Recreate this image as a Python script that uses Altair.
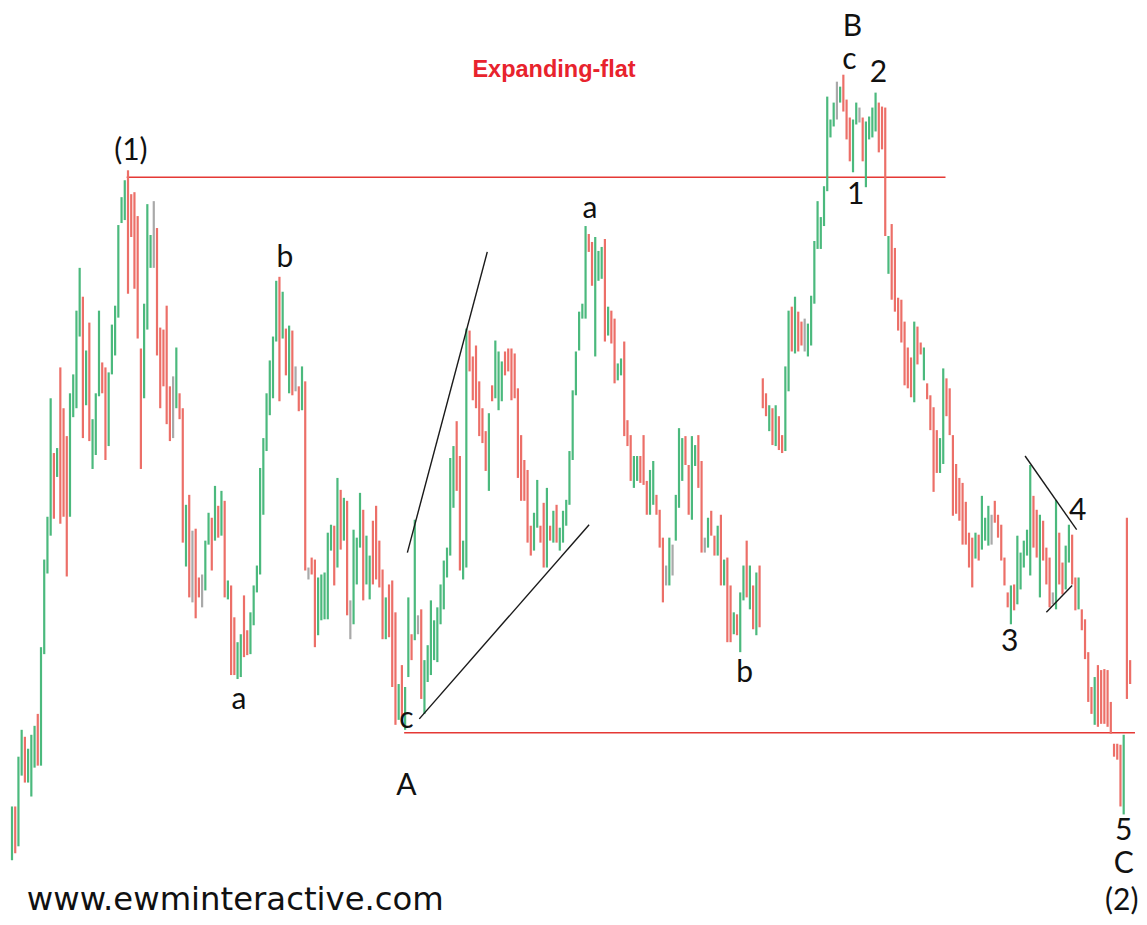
import altair as alt
import pandas as pd

# Bar readings: level of the bar top and bottom
# (level measured downward, so the y scale is reversed), and bar direction.
tops = [
    810, 810, 760, 733, 740, 752, 738, 729, 717, 650, 562, 519, 400, 455, 450, 369, 410, 438, 395, 376,
    312, 269, 298, 352, 324, 421, 395, 312, 364, 369, 374, 326, 307, 226, 198, 181, 171, 195, 193, 217,
    350, 305, 205, 236, 202, 229, 329, 331, 307, 388, 378, 349, 395, 410, 507, 497, 533, 531,
    580, 577, 543, 515, 520, 488, 508, 493, 503, 583, 588, 620, 645, 637, 598, 633, 615, 588, 568, 470,
    440, 395, 362, 338, 282, 278, 293, 330, 327, 332, 368, 388, 368, 383, 570, 560, 562, 580, 577, 575,
    535, 527, 528, 480, 492, 500, 503, 603, 532, 540, 495, 512, 538, 558, 523, 508, 543, 572, 600, 587,
    583, 615, 687, 668, 690, 600, 637, 522, 618, 612, 663, 648, 603, 623, 610, 587, 563, 550, 460, 448,
    423, 458, 543, 330, 332, 358, 347, 383, 410, 433, 415, 387, 342, 353, 363, 353, 350, 350, 355, 390,
    437, 462, 472, 528, 515, 482, 528, 505, 490, 528, 513, 507, 530, 513, 502, 453, 392, 353, 313, 305,
    227, 235, 243, 238, 252, 248, 240, 308, 312, 320, 365, 360, 343, 422, 437, 458, 458, 458, 437, 483,
    472, 463, 497, 512, 540, 568, 540, 547, 497, 430, 440, 438, 467, 438, 447, 437, 463, 540, 520, 513,
    538, 528, 517, 562, 560, 588, 615, 617, 595, 568, 543, 568, 588, 575, 568,
    380, 395, 407, 410, 407, 418, 437, 368, 312, 308, 298, 313, 323, 320, 325, 297, 242, 202, 218, 187,
    97, 120, 103, 82, 87, 75, 100, 118, 120, 103, 108, 118, 122, 117, 108, 93, 103, 107, 108,
    237, 225, 249, 299, 301, 323, 349, 359, 323, 328, 344, 349, 385, 397, 409, 432, 440, 370, 380, 390,
    437, 466, 480, 485, 504, 535, 540, 535, 537,
    498, 520, 508, 517, 503, 517, 527, 560, 595, 588, 587, 538, 555, 543, 532, 467, 498, 512, 517, 523,
    550, 560, 595, 502, 535, 565, 548, 527, 537, 580, 580,
    612, 622, 655, 690, 680, 668, 673, 672, 673, 705, 747, 747, 748, 738, 520, 663,
]
bottoms = [
    864, 857, 850, 779, 786, 786, 800, 771, 769, 769, 657, 576, 538, 521, 479, 526, 519, 579, 519, 419,
    410, 338, 440, 407, 443, 471, 457, 398, 395, 462, 448, 376, 357, 319, 224, 221, 295, 238, 290, 340,
    471, 400, 331, 269, 269, 357, 410, 388, 426, 443, 440, 410, 421, 545, 569, 600, 605, 621,
    600, 610, 593, 547, 573, 543, 540, 538, 600, 602, 678, 678, 682, 680, 660, 658, 657, 628, 595, 577,
    517, 453, 417, 400, 343, 403, 340, 377, 395, 397, 393, 413, 412, 573, 582, 577, 650, 638, 623, 622,
    622, 553, 588, 570, 552, 543, 618, 642, 627, 587, 550, 603, 587, 602, 587, 582, 590, 642, 642, 640,
    690, 728, 723, 725, 733, 680, 663, 643, 637, 702, 717, 685, 678, 663, 665, 627, 612, 580, 558, 510,
    493, 573, 582, 570, 373, 402, 410, 438, 445, 473, 493, 403, 400, 412, 403, 377, 373, 402, 400, 480,
    503, 503, 545, 558, 553, 530, 545, 570, 570, 543, 545, 545, 553, 545, 528, 507, 462, 397, 352, 320,
    320, 253, 287, 358, 282, 280, 343, 337, 345, 385, 382, 377, 438, 448, 483, 490, 483, 485, 487, 517,
    517, 507, 517, 550, 605, 588, 588, 578, 543, 510, 483, 467, 517, 522, 468, 490, 555, 555, 550, 538,
    558, 558, 588, 588, 645, 645, 637, 638, 655, 603, 600, 612, 632, 638, 630,
    410, 418, 433, 447, 448, 452, 455, 453, 393, 353, 355, 353, 347, 353, 358, 347, 305, 250, 250, 227,
    192, 138, 127, 120, 103, 112, 140, 162, 173, 125, 123, 162, 188, 140, 138, 132, 153, 150, 237,
    275, 301, 313, 332, 344, 387, 390, 399, 404, 366, 356, 382, 401, 432, 494, 475, 475, 466, 418, 437,
    518, 516, 523, 547, 547, 570, 590, 561, 563,
    552, 543, 548, 547, 525, 540, 563, 588, 610, 627, 613, 607, 592, 570, 558, 578, 550, 560, 600, 563,
    587, 610, 607, 612, 587, 597, 592, 565, 587, 613, 612,
    633, 662, 705, 717, 728, 730, 727, 727, 730, 737, 760, 763, 810, 818, 702, 687,
]
# g = up bar, r = down bar, n = unchanged bar (groups of ten)
directions = "".join([
    "grggrgggrg", "gggrgrrrgg", "ggrgrgggrr", "ggggggrrrr", "rgggnrrrrr", "ngrrgrnr",
    "rnggrgrgrg", "rrggrrgggg", "gggggrgrgr", "nrgrnrrggg", "ggrgrgrngg", "grggrrrrgr",
    "rrgrggrgnr", "gggggggggg", "rrggrrrrrr", "grgggrrrrr", "rrrrggrrgr", "grgggggggg",
    "grrgggrgrr", "ggrrrggrrr", "ggrrrngngg", "grrggrrngr", "rgrgrrgrgg", "rgrgr",
    "rrgrgrrggr", "grrngggggg", "gggngrrrgg", "nrggggrrr",
    "grrrrrrrgr", "rgrrrrggrr", "rrrrrrrgr",
    "gggnrrrrrg", "rgggggrrgr", "rrngrrggrr", "g",
    "rrrrgrrrrr", "rrrgrr",
])

labels_txt = ["(1)", "b", "a", "c", "A", "a", "b", "B", "c", "2", "1", "3", "4", "5", "C", "(2)"]
labels_t = [36.9, 84.7, 70.4, 122.4, 122.4, 179.4, 227.4, 260.8, 259.9, 268.9, 261.8, 309.6, 330.7, 345.0, 345.0, 344.4]
labels_y = [152, 259, 703, 722, 789, 210, 676, 27, 60, 73, 196, 645, 513, 835, 868, 905]

hlines_t = [35.6, 121.7]
hlines_t2 = [289.7, 348.5]
hlines_y = [178, 736]

tlines_t = [122.7, 126.4, 314.4, 321.0]
tlines_y = [555, 722, 458, 615]
tlines_t2 = [147.5, 179.1, 330.4, 329.0]
tlines_y2 = [253, 527, 532, 588]

n = min(len(tops), len(bottoms), len(directions))
dir_name = {"g": "up", "r": "down", "n": "flat"}
bars = pd.DataFrame({
    "t": list(range(n)),
    "top": tops[:n],
    "bottom": bottoms[:n],
    "dir": [dir_name[c] for c in directions[:n]],
})

xs = alt.Scale(domain=[-1.24, 349.13], nice=False, zero=False)
ys = alt.Scale(domain=[8, 917], reverse=True, nice=False, zero=False)

bar_layer = alt.Chart(bars).mark_rule(strokeWidth=2.2).encode(
    x=alt.X("t:Q", scale=xs, axis=None),
    y=alt.Y("top:Q", scale=ys, axis=None),
    y2="bottom:Q",
    color=alt.Color("dir:N", scale=alt.Scale(domain=["up", "down", "flat"],
                                              range=["#4bb97d", "#ec6f68", "#a9a9a9"]), legend=None),
)

hl = pd.DataFrame({"t": hlines_t, "t2": hlines_t2, "y": hlines_y})
h_layer = alt.Chart(hl).mark_rule(color="#e53935", strokeWidth=1.5).encode(
    x=alt.X("t:Q", scale=xs, axis=None), x2="t2:Q",
    y=alt.Y("y:Q", scale=ys, axis=None),
)

tl = pd.DataFrame({"t": tlines_t, "y": tlines_y, "t2": tlines_t2, "y2": tlines_y2})
t_layer = alt.Chart(tl).mark_rule(color="#1a1a1a", strokeWidth=1.4).encode(
    x=alt.X("t:Q", scale=xs, axis=None), x2="t2:Q",
    y=alt.Y("y:Q", scale=ys, axis=None), y2="y2:Q",
)

lab = pd.DataFrame({"txt": labels_txt, "t": labels_t, "y": labels_y})
lab_layer = alt.Chart(lab).mark_text(font="Lato", fontSize=30, color="#111111", baseline="middle").encode(
    x=alt.X("t:Q", scale=xs, axis=None),
    y=alt.Y("y:Q", scale=ys, axis=None),
    text="txt:N",
)

site = pd.DataFrame({"txt": ["www.ewminteractive.com"], "t": [4.6], "y": [904]})
site_layer = alt.Chart(site).mark_text(font="DejaVu Sans", fontSize=32.3, color="#111111",
                                       align="left", baseline="middle").encode(
    x=alt.X("t:Q", scale=xs, axis=None),
    y=alt.Y("y:Q", scale=ys, axis=None),
    text="txt:N",
)

ttl = pd.DataFrame({"txt": ["Expanding-flat"], "t": [168.2], "y": [70]})
ttl_layer = alt.Chart(ttl).mark_text(font="Liberation Sans", fontSize=23.5, fontWeight="bold",
                                     color="#e8232d", baseline="middle").encode(
    x=alt.X("t:Q", scale=xs, axis=None),
    y=alt.Y("y:Q", scale=ys, axis=None),
    text="txt:N",
)

chart = alt.layer(h_layer, bar_layer, t_layer, lab_layer, site_layer, ttl_layer).properties(
    width=1131, height=909, padding=0,
    autosize=alt.AutoSizeParams(type="fit", contains="padding"),
).configure_view(strokeWidth=0)

chart.save("out.html", embed_options={"renderer": "svg", "actions": False})
